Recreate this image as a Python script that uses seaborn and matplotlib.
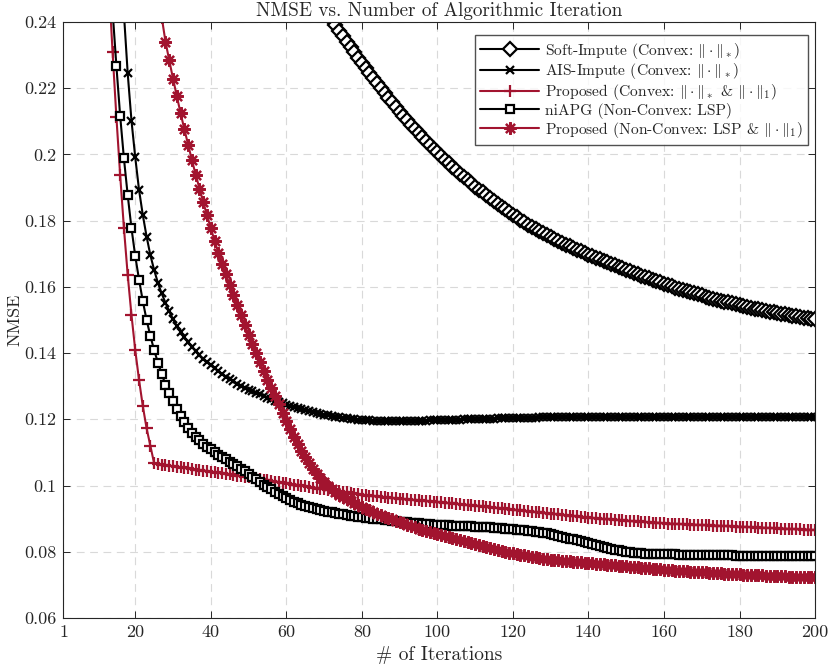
import numpy as np
import seaborn as sns
import matplotlib.pyplot as plt

# NMSE per iteration (each list ends at iteration 200)
soft_impute = [
    0.2407, 0.2390, 0.2373, 0.2357, 0.2340, 0.2324, 0.2308, 0.2292, 0.2276,
    0.2260, 0.2245, 0.2230, 0.2215, 0.2200, 0.2185, 0.2171, 0.2157, 0.2143, 0.2129,
    0.2116, 0.2103, 0.2090, 0.2077, 0.2064, 0.2052, 0.2040, 0.2028, 0.2017, 0.2006,
    0.1995, 0.1984, 0.1973, 0.1962, 0.1952, 0.1942, 0.1932, 0.1922, 0.1913, 0.1903,
    0.1894, 0.1885, 0.1876, 0.1867, 0.1859, 0.1850, 0.1842, 0.1834, 0.1826, 0.1818,
    0.1810, 0.1802, 0.1795, 0.1788, 0.1781, 0.1774, 0.1768, 0.1762, 0.1756, 0.1750,
    0.1744, 0.1738, 0.1733, 0.1727, 0.1722, 0.1717, 0.1712, 0.1707, 0.1702, 0.1697,
    0.1692, 0.1688, 0.1683, 0.1678, 0.1674, 0.1669, 0.1665, 0.1660, 0.1656, 0.1651,
    0.1647, 0.1643, 0.1638, 0.1634, 0.1630, 0.1626, 0.1622, 0.1618, 0.1614, 0.1610,
    0.1606, 0.1602, 0.1598, 0.1594, 0.1591, 0.1587, 0.1583, 0.1580, 0.1577, 0.1574,
    0.1570, 0.1567, 0.1564, 0.1561, 0.1558, 0.1555, 0.1553, 0.1550, 0.1547, 0.1544,
    0.1542, 0.1539, 0.1537, 0.1534, 0.1532, 0.1530, 0.1527, 0.1525, 0.1523, 0.1521,
    0.1519, 0.1517, 0.1515, 0.1513, 0.1511, 0.1509, 0.1507, 0.1506, 0.1504, 0.1502,
]

ais_impute = [
    0.2425, 0.2245, 0.2102, 0.1991, 0.1893, 0.1817, 0.1752, 0.1696, 0.1651, 0.1612,
    0.1580, 0.1552, 0.1526, 0.1502, 0.1482, 0.1464, 0.1448, 0.1433, 0.1419, 0.1406,
    0.1394, 0.1383, 0.1373, 0.1363, 0.1354, 0.1345, 0.1337, 0.1329, 0.1322, 0.1315,
    0.1308, 0.1302, 0.1296, 0.1290, 0.1285, 0.1280, 0.1275, 0.1270, 0.1265, 0.1260,
    0.1256, 0.1252, 0.1248, 0.1244, 0.1240, 0.1237, 0.1234, 0.1231, 0.1228, 0.1225,
    0.1222, 0.1219, 0.1217, 0.1214, 0.1212, 0.1210, 0.1208, 0.1206, 0.1204, 0.1203,
    0.1201, 0.1200, 0.1199, 0.1198, 0.1197, 0.1197, 0.1196, 0.1196, 0.1196, 0.1195,
    0.1195, 0.1195, 0.1195, 0.1195, 0.1195, 0.1195, 0.1195, 0.1196, 0.1196, 0.1196,
    0.1196, 0.1197, 0.1197, 0.1197, 0.1198, 0.1198, 0.1198, 0.1199, 0.1199, 0.1199,
    0.1200, 0.1200, 0.1200, 0.1201, 0.1201, 0.1201, 0.1202, 0.1202, 0.1202, 0.1203,
    0.1203, 0.1203, 0.1204, 0.1204, 0.1204, 0.1204, 0.1205, 0.1205, 0.1205, 0.1205,
    0.1206, 0.1206, 0.1206, 0.1206, 0.1206, 0.1207, 0.1207, 0.1207, 0.1207, 0.1207,
    0.1207, 0.1207, 0.1207, 0.1207, 0.1207, 0.1207, 0.1207, 0.1207, 0.1207, 0.1207,
    0.1207, 0.1207, 0.1207, 0.1207, 0.1207, 0.1207, 0.1207, 0.1207, 0.1207, 0.1207,
    0.1207, 0.1207, 0.1207, 0.1207, 0.1207, 0.1207, 0.1207, 0.1207, 0.1207, 0.1207,
    0.1207, 0.1207, 0.1207, 0.1207, 0.1207, 0.1207, 0.1207, 0.1207, 0.1207, 0.1207,
    0.1207, 0.1207, 0.1207, 0.1207, 0.1207, 0.1207, 0.1207, 0.1207, 0.1207, 0.1207,
    0.1207, 0.1207, 0.1207, 0.1207, 0.1207, 0.1207, 0.1207, 0.1207, 0.1207, 0.1207,
    0.1207, 0.1207, 0.1207, 0.1207,
]

proposed_convex = [
    0.2520, 0.2308, 0.2114, 0.1938, 0.1778, 0.1636, 0.1515, 0.1409, 0.1319, 0.1240,
    0.1173, 0.1120, 0.1067, 0.1065, 0.1063, 0.1062, 0.1060, 0.1058, 0.1056, 0.1055,
    0.1053, 0.1052, 0.1050, 0.1048, 0.1047, 0.1045, 0.1044, 0.1042, 0.1040, 0.1039,
    0.1037, 0.1035, 0.1034, 0.1032, 0.1030, 0.1028, 0.1027, 0.1025, 0.1023, 0.1021,
    0.1020, 0.1018, 0.1016, 0.1014, 0.1012, 0.1011, 0.1009, 0.1007, 0.1005, 0.1003,
    0.1002, 0.1000, 0.0998, 0.0996, 0.0994, 0.0993, 0.0991, 0.0989, 0.0987, 0.0986,
    0.0984, 0.0982, 0.0981, 0.0979, 0.0977, 0.0975, 0.0974, 0.0972, 0.0971, 0.0969,
    0.0968, 0.0967, 0.0966, 0.0964, 0.0963, 0.0962, 0.0961, 0.0960, 0.0959, 0.0958,
    0.0957, 0.0956, 0.0955, 0.0954, 0.0953, 0.0952, 0.0951, 0.0950, 0.0949, 0.0948,
    0.0947, 0.0946, 0.0945, 0.0943, 0.0942, 0.0941, 0.0940, 0.0939, 0.0938, 0.0937,
    0.0935, 0.0934, 0.0933, 0.0932, 0.0931, 0.0929, 0.0928, 0.0927, 0.0926, 0.0925,
    0.0923, 0.0922, 0.0921, 0.0920, 0.0919, 0.0917, 0.0916, 0.0915, 0.0914, 0.0913,
    0.0911, 0.0910, 0.0909, 0.0908, 0.0907, 0.0905, 0.0904, 0.0903, 0.0902, 0.0901,
    0.0900, 0.0899, 0.0898, 0.0898, 0.0897, 0.0896, 0.0895, 0.0894, 0.0893, 0.0892,
    0.0892, 0.0891, 0.0890, 0.0889, 0.0888, 0.0888, 0.0887, 0.0886, 0.0885, 0.0885,
    0.0884, 0.0884, 0.0883, 0.0883, 0.0882, 0.0882, 0.0881, 0.0881, 0.0880, 0.0880,
    0.0879, 0.0879, 0.0878, 0.0878, 0.0877, 0.0877, 0.0876, 0.0876, 0.0875, 0.0875,
    0.0874, 0.0874, 0.0873, 0.0873, 0.0872, 0.0872, 0.0871, 0.0871, 0.0870, 0.0870,
    0.0869, 0.0869, 0.0868, 0.0868, 0.0867, 0.0867, 0.0866, 0.0866,
]

niapg = [
    0.2433, 0.2268, 0.2117, 0.1988, 0.1877, 0.1777, 0.1693, 0.1622, 0.1557, 0.1500,
    0.1452, 0.1409, 0.1371, 0.1337, 0.1305, 0.1278, 0.1254, 0.1231, 0.1210, 0.1191,
    0.1174, 0.1160, 0.1147, 0.1136, 0.1126, 0.1117, 0.1109, 0.1101, 0.1093, 0.1086,
    0.1079, 0.1072, 0.1065, 0.1058, 0.1051, 0.1043, 0.1035, 0.1027, 0.1019, 0.1011,
    0.1003, 0.0995, 0.0988, 0.0981, 0.0974, 0.0968, 0.0962, 0.0956, 0.0951, 0.0946,
    0.0942, 0.0938, 0.0935, 0.0932, 0.0929, 0.0926, 0.0923, 0.0921, 0.0919, 0.0917,
    0.0915, 0.0913, 0.0911, 0.0909, 0.0908, 0.0906, 0.0905, 0.0903, 0.0902, 0.0900,
    0.0899, 0.0898, 0.0896, 0.0895, 0.0894, 0.0892, 0.0891, 0.0890, 0.0889, 0.0888,
    0.0887, 0.0886, 0.0885, 0.0884, 0.0883, 0.0882, 0.0881, 0.0881, 0.0880, 0.0880,
    0.0879, 0.0879, 0.0878, 0.0878, 0.0877, 0.0877, 0.0876, 0.0876, 0.0875, 0.0874,
    0.0874, 0.0873, 0.0872, 0.0871, 0.0870, 0.0869, 0.0868, 0.0867, 0.0866, 0.0865,
    0.0864, 0.0862, 0.0861, 0.0859, 0.0858, 0.0856, 0.0854, 0.0852, 0.0849, 0.0846,
    0.0843, 0.0840, 0.0837, 0.0834, 0.0831, 0.0828, 0.0825, 0.0822, 0.0819, 0.0816,
    0.0813, 0.0811, 0.0808, 0.0806, 0.0804, 0.0802, 0.0800, 0.0798, 0.0797, 0.0796,
    0.0795, 0.0794, 0.0794, 0.0793, 0.0793, 0.0793, 0.0792, 0.0792, 0.0792, 0.0792,
    0.0791, 0.0791, 0.0791, 0.0791, 0.0790, 0.0790, 0.0790, 0.0790, 0.0790, 0.0789,
    0.0789, 0.0789, 0.0789, 0.0789, 0.0789, 0.0788, 0.0788, 0.0788, 0.0788, 0.0788,
    0.0788, 0.0788, 0.0788, 0.0788, 0.0787, 0.0787, 0.0787, 0.0787, 0.0787, 0.0787,
    0.0787, 0.0787, 0.0787, 0.0787, 0.0787, 0.0787, 0.0787,
]

proposed_nonconvex = [
    0.2415, 0.2341, 0.2284, 0.2229, 0.2176, 0.2125, 0.2076, 0.2029, 0.1983, 0.1939,
    0.1897, 0.1856, 0.1816, 0.1777, 0.1739, 0.1702, 0.1670, 0.1638, 0.1607, 0.1576,
    0.1545, 0.1515, 0.1485, 0.1456, 0.1428, 0.1400, 0.1373, 0.1346, 0.1320, 0.1294,
    0.1269, 0.1245, 0.1220, 0.1195, 0.1171, 0.1148, 0.1126, 0.1105, 0.1086, 0.1068,
    0.1051, 0.1036, 0.1022, 0.1010, 0.0999, 0.0989, 0.0980, 0.0972, 0.0965, 0.0958,
    0.0952, 0.0946, 0.0940, 0.0935, 0.0930, 0.0925, 0.0920, 0.0915, 0.0910, 0.0906,
    0.0902, 0.0898, 0.0894, 0.0890, 0.0886, 0.0882, 0.0878, 0.0874, 0.0870, 0.0866,
    0.0862, 0.0859, 0.0856, 0.0853, 0.0850, 0.0847, 0.0844, 0.0841, 0.0838, 0.0835,
    0.0832, 0.0829, 0.0826, 0.0823, 0.0820, 0.0817, 0.0814, 0.0811, 0.0808, 0.0805,
    0.0802, 0.0799, 0.0797, 0.0795, 0.0793, 0.0791, 0.0789, 0.0787, 0.0785, 0.0783,
    0.0781, 0.0779, 0.0777, 0.0776, 0.0775, 0.0774, 0.0773, 0.0772, 0.0771, 0.0770,
    0.0769, 0.0768, 0.0767, 0.0766, 0.0765, 0.0764, 0.0763, 0.0762, 0.0761, 0.0760,
    0.0759, 0.0758, 0.0757, 0.0756, 0.0755, 0.0754, 0.0753, 0.0752, 0.0751, 0.0750,
    0.0749, 0.0748, 0.0747, 0.0746, 0.0745, 0.0744, 0.0743, 0.0743, 0.0742, 0.0741,
    0.0740, 0.0740, 0.0739, 0.0738, 0.0738, 0.0737, 0.0736, 0.0736, 0.0735, 0.0734,
    0.0734, 0.0733, 0.0733, 0.0732, 0.0731, 0.0731, 0.0730, 0.0730, 0.0729, 0.0729,
    0.0728, 0.0728, 0.0727, 0.0727, 0.0726, 0.0726, 0.0725, 0.0725, 0.0725, 0.0724,
    0.0724, 0.0723, 0.0723, 0.0723,
]

labels = [
    r'Soft-Impute (Convex: $\|\cdot\|_*$)',
    r'AIS-Impute (Convex: $\|\cdot\|_*$)',
    r'Proposed (Convex: $\|\cdot\|_*$ & $\|\cdot\|_1$)',
    r'niAPG (Non-Convex: LSP)',
    r'Proposed (Non-Convex: LSP & $\|\cdot\|_1$)',
]
xticks = [1, 20, 40, 60, 80, 100, 120, 140, 160, 180, 200]
yticks = [0.06, 0.08, 0.10, 0.12, 0.14, 0.16, 0.18, 0.20, 0.22, 0.24]
ytick_labels = ['0.06', '0.08', '0.1', '0.12', '0.14', '0.16', '0.18', '0.2', '0.22', '0.24']

red = '#A2142F'

sns.set_style('ticks')
plt.rcParams['font.family'] = ['cmr10']
plt.rcParams['mathtext.fontset'] = 'cm'
plt.rcParams['axes.formatter.use_mathtext'] = True
plt.rcParams['axes.unicode_minus'] = False

fig = plt.figure(figsize=(8.3, 6.68), dpi=100)
ax = fig.add_axes([0.0765, 0.0749, 0.9055, 0.8922])

# values, colour, marker, marker size, face colour
styles = [
    (soft_impute, 'black', 'D', 7.0, 'white'),
    (ais_impute, 'black', 'x', 5.5, 'black'),
    (proposed_convex, red, '+', 9.0, red),
    (niapg, 'black', 's', 6.3, 'white'),
    (proposed_nonconvex, red, (8, 2, 0), 9.0, red),
]

for (vals, col, mk, ms, face), lab in zip(styles, labels):
    iters = np.arange(201 - len(vals), 201)
    sns.lineplot(x=iters, y=vals, ax=ax, color=col, marker=mk, markersize=ms,
                 markerfacecolor=face, markeredgecolor=col, markeredgewidth=1.6,
                 linewidth=1.5, label=lab, errorbar=None, clip_on=True)

ax.set_xlim(1, 200)
ax.set_ylim(0.06, 0.24)
ax.set_xticks(xticks)
ax.set_xticklabels([str(t) for t in xticks])
ax.set_yticks(yticks)
ax.set_yticklabels(ytick_labels)
ax.tick_params(direction='in', length=5, width=0.7, top=True, right=True,
               labelsize=13, colors='#262626', pad=5)
for s in ax.spines.values():
    s.set_color('#262626')
    s.set_linewidth(0.8)
ax.grid(True, color='#d9d9d9', linestyle=(0, (7, 5)), linewidth=0.8)
ax.set_axisbelow(True)

ax.set_title('NMSE vs. Number of Algorithmic Iteration', fontsize=13.8, pad=4)
ax.set_xlabel('# of Iterations', fontsize=14, labelpad=4)
ax.set_ylabel('NMSE', fontsize=13, labelpad=1)

leg = ax.legend(loc='upper right', bbox_to_anchor=(0.991, 0.978), borderaxespad=0,
                fontsize=11.2, frameon=True, fancybox=False, edgecolor='#262626',
                handlelength=3.8, handletextpad=0.4, labelspacing=0.05,
                borderpad=0.35, numpoints=1)
leg.get_frame().set_linewidth(1.0)

fig.savefig('out.png', dpi=100)
